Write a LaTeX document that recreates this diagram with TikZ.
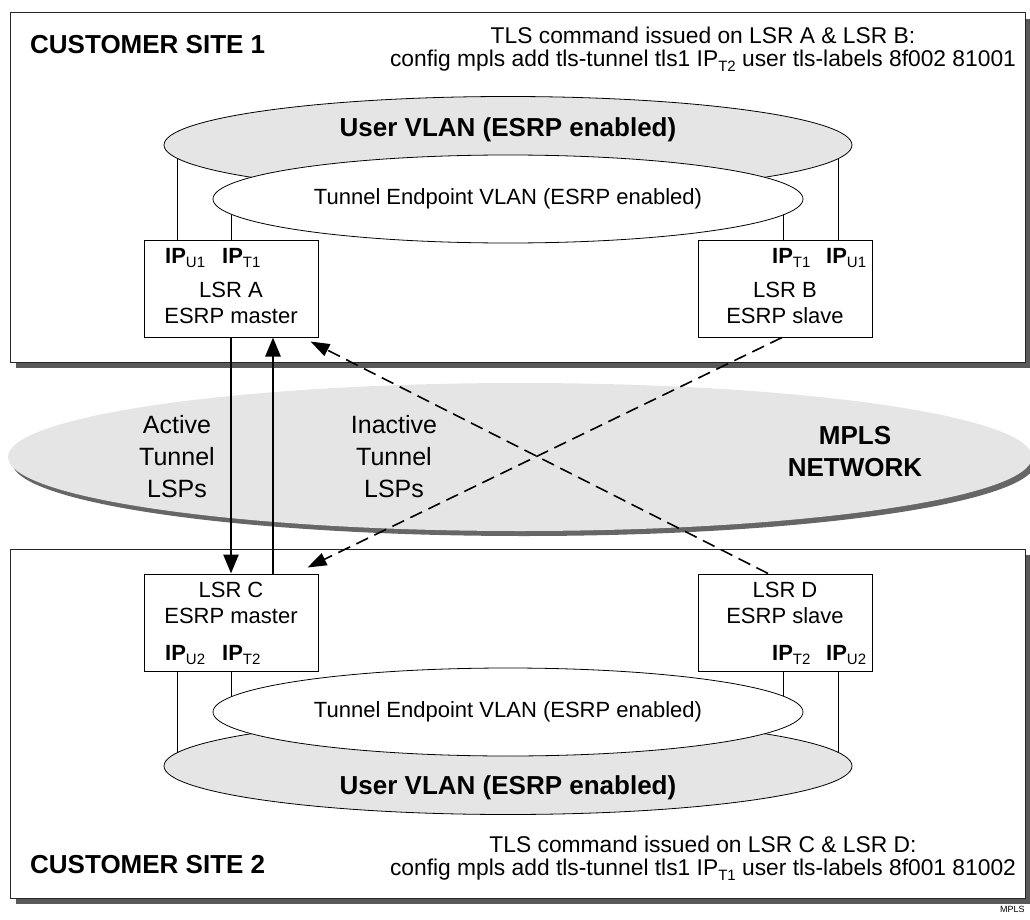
\documentclass[tikz,border=0pt]{standalone}
\usepackage{fontspec}
\setmainfont{Liberation Sans}
\usetikzlibrary{shapes.geometric,shadows,arrows.meta,backgrounds}
\newcommand{\ipb}[1]{\textbf{IP}\raisebox{-4pt}{\fontsize{15}{15}\selectfont #1}}
\newcommand{\ipn}[1]{IP\raisebox{-5pt}{\fontsize{15}{15}\selectfont #1}}

\begin{document}
\begin{tikzpicture}[x=1pt, y=-1pt, font=\fontsize{22}{26}\selectfont,
  site/.style={draw=black!85, line width=1pt, fill=white, minimum width=1015pt, minimum height=349pt, inner sep=0pt,
    drop shadow={shadow xshift=6pt, shadow yshift=-6pt, fill=black!65, opacity=1}},
  lsr/.style={draw, line width=1pt, fill=white, minimum width=174pt, minimum height=97pt, inner sep=0pt},
  uvlan/.style={ellipse, draw, line width=0.8pt, fill=black!10, minimum width=688pt, minimum height=97pt, inner sep=0pt},
  tvlan/.style={ellipse, draw, line width=0.8pt, fill=white, minimum width=590pt, minimum height=88pt, inner sep=0pt},
  link/.style={line width=1.1pt},
  active/.style={line width=2.6pt, -{Triangle[length=19pt,width=15pt]}},
  inactive/.style={line width=1.6pt, dash pattern=on 13pt off 7pt, -{Triangle[length=19pt,width=13pt]}},
  bold/.style={font=\fontsize{26}{32}\selectfont\bfseries},
  cmd/.style={align=center, inner sep=0pt, font=\fontsize{22.8}{23}\selectfont},
  txt/.style={align=center, inner sep=0pt}]
\clip (0,0) rectangle (1030,920);

\node[ellipse, fill=black!10, minimum width=1024pt, minimum height=148pt, inner sep=0pt,
  drop shadow={shadow xshift=4pt, shadow yshift=-5pt, fill=black!60, opacity=1}] (mpls) at (520,457) {};
\node[bold, align=center] (mplslbl) at (855,452) {MPLS\\NETWORK};

\node[uvlan] (uv1) at (508,145) {};
\node[bold] (uv1lbl) at (508,130) {User VLAN (ESRP enabled)};
\node[tvlan] (tv1) at (508,199) {Tunnel Endpoint VLAN (ESRP enabled)};

\node[uvlan] (uv2) at (508,766) {};
\node[tvlan] (tv2) at (508,712) {Tunnel Endpoint VLAN (ESRP enabled)};
\node[bold] (uv2lbl) at (508,788) {User VLAN (ESRP enabled)};

\node[lsr] (lsra) at (231,288.5) {};
\node[lsr] (lsrb) at (785,288.5) {};
\node[lsr] (lsrc) at (231,622.5) {};
\node[lsr] (lsrd) at (785,622.5) {};

\node[txt, anchor=north] (lsratxt) at (231,282) {LSR A\\ESRP master};
\node[txt, anchor=north] (lsrbtxt) at (785,282) {LSR B\\ESRP slave};
\node[txt, anchor=north] (lsrctxt) at (231,582) {LSR C\\ESRP master};
\node[txt, anchor=north] (lsrdtxt) at (785,582) {LSR D\\ESRP slave};

\node[txt, anchor=base west] (ipua) at (165,263) {\ipb{U1}};
\node[txt, anchor=base west] (ipta) at (222,263) {\ipb{T1}};
\node[txt, anchor=base west] (iptb) at (772,263) {\ipb{T1}};
\node[txt, anchor=base west] (ipub) at (826,263) {\ipb{U1}};
\node[txt, anchor=base west] (ipuc) at (165,660) {\ipb{U2}};
\node[txt, anchor=base west] (iptc) at (222,660) {\ipb{T2}};
\node[txt, anchor=base west] (iptd) at (772,660) {\ipb{T2}};
\node[txt, anchor=base west] (ipud) at (826,660) {\ipb{U2}};

\node[bold, anchor=base west, inner sep=0pt] (site1lbl) at (30,54) {CUSTOMER SITE 1};
\node[bold, anchor=base west, inner sep=0pt] (site2lbl) at (30,873) {CUSTOMER SITE 2};
\node[cmd, anchor=north] (cmd1) at (703,27) {TLS command issued on LSR A \& LSR B:\\config mpls add tls-tunnel tls1 \ipn{T2} user tls-labels 8f002 81001};
\node[cmd, anchor=north] (cmd2) at (703,836) {TLS command issued on LSR C \& LSR D:\\config mpls add tls-tunnel tls1 \ipn{T1} user tls-labels 8f001 81002};

\node[txt, font=\fontsize{25}{32}\selectfont] (actlbl) at (177,457) {Active\\Tunnel\\LSPs};
\node[txt, font=\fontsize{25}{32}\selectfont] (inactlbl) at (394,457) {Inactive\\Tunnel\\LSPs};
\node[inner sep=0pt, anchor=base west, font=\fontsize{9}{9}\selectfont] (tag) at (1000,912) {MPLS};

\draw[active] (lsra.south) -- (lsrc.north);
\draw[active] ([xshift=42pt]lsrc.north) -- ([xshift=42pt]lsra.south);
\draw[inactive] ([xshift=-17pt]lsrd.north) -- ([xshift=-8pt,yshift=-4pt]lsra.south east);
\draw[inactive] ([xshift=-3pt]lsrb.south) -- ([xshift=-11pt,yshift=6pt]lsrc.north east);

\coordinate (pa1) at ([xshift=34pt]lsra.north west);
\coordinate (pa2) at ([xshift=88pt]lsra.north west);
\coordinate (pb1) at ([xshift=86pt]lsrb.north west);
\coordinate (pb2) at ([xshift=141pt]lsrb.north west);
\coordinate (pc1) at ([xshift=34pt]lsrc.south west);
\coordinate (pc2) at ([xshift=88pt]lsrc.south west);
\coordinate (pd1) at ([xshift=86pt]lsrd.south west);
\coordinate (pd2) at ([xshift=141pt]lsrd.south west);

\begin{pgfonlayer}{background}
\node[site] (site1) at (517.5,187.5) {};
\node[site] (site2) at (517.5,723.5) {};
\draw[link] (pa1) -- (pa1 |- uv1.center);
\draw[link] (pa2) -- (pa2 |- tv1.center);
\draw[link] (pb1) -- (pb1 |- tv1.center);
\draw[link] (pb2) -- (pb2 |- uv1.center);
\draw[link] (pc1) -- (pc1 |- uv2.center);
\draw[link] (pc2) -- (pc2 |- tv2.center);
\draw[link] (pd1) -- (pd1 |- tv2.center);
\draw[link] (pd2) -- (pd2 |- uv2.center);
\end{pgfonlayer}
\end{tikzpicture}
\end{document}
